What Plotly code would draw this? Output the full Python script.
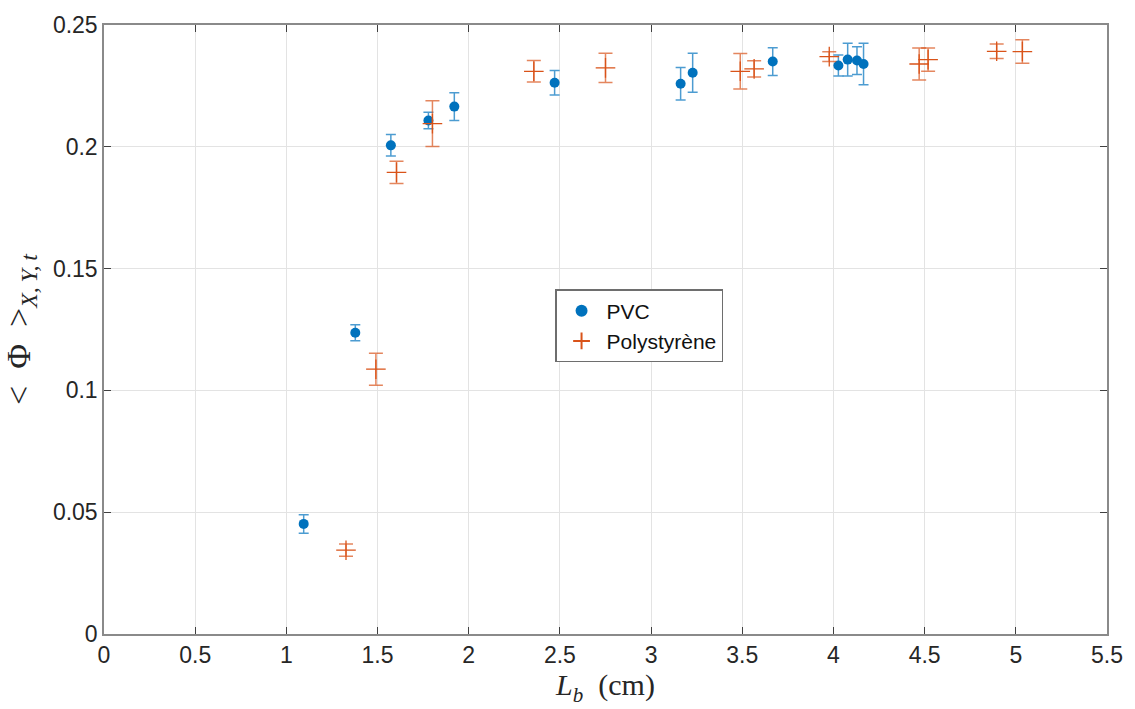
import plotly.graph_objects as go

# PVC measurements
pvc_lb = [1.095, 1.378, 1.573, 1.779, 1.921, 2.471, 3.162, 3.228, 3.667, 4.027, 4.078, 4.129, 4.165]
pvc_phi = [0.0452, 0.1237, 0.2006, 0.2108, 0.2165, 0.2263, 0.2259, 0.2304, 0.2350, 0.2334, 0.2358, 0.2354, 0.2340]
pvc_err = [0.0038, 0.0033, 0.0044, 0.0034, 0.0057, 0.0050, 0.0067, 0.0080, 0.0057, 0.0043, 0.0067, 0.0057, 0.0085]

# Polystyrene measurements
ps_lb = [1.327, 1.491, 1.604, 1.801, 2.357, 2.750, 3.489, 3.565, 3.977, 4.470, 4.519, 4.895, 5.036]
ps_phi = [0.0344, 0.1087, 0.1895, 0.2095, 0.2310, 0.2324, 0.2310, 0.2320, 0.2370, 0.2340, 0.2358, 0.2392, 0.2391]
ps_err = [0.0025, 0.0066, 0.0046, 0.0094, 0.0044, 0.0060, 0.0073, 0.0033, 0.0020, 0.0066, 0.0048, 0.0030, 0.0048]

x_ticks = [0, 0.5, 1, 1.5, 2, 2.5, 3, 3.5, 4, 4.5, 5, 5.5]
y_ticks = [0, 0.05, 0.1, 0.15, 0.2, 0.25]

BLUE = "#0072BD"
ORANGE = "#D95319"

fig = go.Figure()

fig.add_trace(go.Scatter(
    x=pvc_lb, y=pvc_phi, mode="markers", name="PVC",
    marker=dict(symbol="circle", size=10, color=BLUE),
    error_y=dict(type="data", array=pvc_err, visible=True,
                 color="rgba(0,114,189,0.7)", thickness=1.5, width=5),
))

fig.add_trace(go.Scatter(
    x=ps_lb, y=ps_phi, mode="markers", name="Polystyrène",
    marker=dict(symbol="cross-thin-open", size=14,
                line=dict(color=ORANGE, width=1.3), color=ORANGE),
    error_y=dict(type="data", array=ps_err, visible=True,
                 color="rgba(217,83,25,0.7)", thickness=1.5, width=7),
))

axis_common = dict(
    showline=True, linecolor="#8a8a8a", linewidth=1.5, mirror="ticks",
    ticks="inside", ticklen=7, tickcolor="#404040", tickwidth=1.2,
    showgrid=True, gridcolor="#e3e3e3", gridwidth=1,
    zeroline=False,
    tickfont=dict(family="Liberation Sans, Arial, sans-serif", size=23, color="#262626"),
)

SERIF = "Liberation Serif, DejaVu Serif, serif"

fig.update_xaxes(
    range=[0, 5.5], tickvals=x_ticks, ticktext=[f"{v:g}" for v in x_ticks],
    title=dict(text="<i>L</i><sub><i>b</i></sub>&nbsp; (cm)", standoff=4,
               font=dict(family=SERIF, size=30, color="#262626")),
    **axis_common,
)
fig.update_yaxes(
    range=[0, 0.25], tickvals=y_ticks, ticktext=[f"{v:g}" for v in y_ticks],
    title=dict(text="<&nbsp;&nbsp;Φ&nbsp;&nbsp;><sub><i>X,&#8201;Y,&#8201;t</i></sub>", standoff=12,
               font=dict(family=SERIF, size=34, color="#262626")),
    **axis_common,
)

fig.update_layout(
    width=1135, height=709,
    margin=dict(l=104, r=26, t=17, b=75),
    paper_bgcolor="white", plot_bgcolor="white",
    showlegend=True,
    legend=dict(
        x=0.45, y=0.566, xanchor="left", yanchor="top",
        bgcolor="white", bordercolor="#6e6e6e", borderwidth=1.2,
        font=dict(family="Liberation Sans, Arial, sans-serif", size=21, color="#111"),
        tracegroupgap=0, itemsizing="constant", itemwidth=40,
    ),
)

fig.write_html("out.html")
